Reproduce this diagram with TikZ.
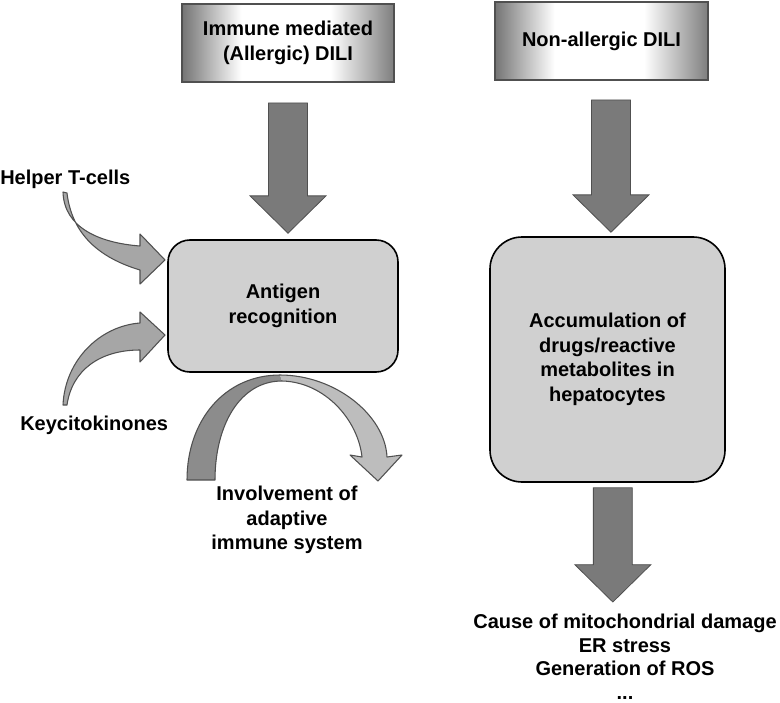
\documentclass[tikz,border=0pt]{standalone}
\usepackage{fontspec}
\setmainfont{Liberation Sans}
\usepackage{tikz}
\usetikzlibrary{calc}

\definecolor{boxgray}{HTML}{D0D0D0}
\definecolor{arrowgray}{HTML}{7A7A7A}
\definecolor{sidegray}{HTML}{A6A6A6}
\definecolor{arcdark}{HTML}{8C8C8C}
\definecolor{arclight}{HTML}{BDBDBD}
\definecolor{edgegray}{HTML}{505050}
\definecolor{headleft}{HTML}{747474}
\definecolor{headright}{HTML}{7E7E7E}
\pgfdeclarehorizontalshading{headshade}{100bp}{color(0bp)=(headleft); color(25bp)=(headleft); color(39bp)=(white); color(60bp)=(white); color(75bp)=(headright); color(100bp)=(headright)}

\newcommand{\fatdown}[5]{%
  \draw[bigarrow] let \p1=(#1.south), \p2=(#2.north) in
    (\x1+#3-14.6pt,\y1-#4) -- (\x1+#3+14.6pt,\y1-#4)
    -- (\x1+#3+14.6pt,\y2+#5+28pt) -- (\x1+#3+28.5pt,\y2+#5+28pt)
    -- (\x1+#3,\y2+#5) -- (\x1+#3-28.5pt,\y2+#5+28pt)
    -- (\x1+#3-14.6pt,\y2+#5+28pt) -- cycle;}

\begin{document}
\begin{tikzpicture}[x=0.75pt, y=-0.75pt,
	every node/.style={font=\fontsize{15}{18.4}\selectfont\bfseries, align=center},
	headbox/.style={draw=edgegray, line width=1.5pt, shading=headshade, minimum width=159pt, minimum height=58.5pt},
	roundbox/.style={draw=black, line width=1.2pt, fill=boxgray, rounded corners=#1},
	txt/.style={inner sep=0pt},
	bigarrow/.style={fill=arrowgray, draw=edgegray, line width=0.6pt},
	sidearrow/.style={fill=sidegray, draw=edgegray, line width=0.8pt, line join=round}]
	\useasboundingbox (0,0) rectangle (780,702);

	\draw[sidearrow] (63,192) .. controls (64,228) and (100,243) .. (140,246) -- (140,234) -- (165,260) -- (140,284) -- (140,270) .. controls (100,258) and (72,235) .. (67,193) -- cycle;
	\draw[sidearrow] (63,405) .. controls (65,360) and (100,326) .. (140,323) -- (140,312) -- (165,335) -- (140,362) -- (140,350) .. controls (100,350) and (72,370) .. (67,405) -- cycle;

	\fill[arcdark] (187,480) .. controls (187,420) and (225,375) .. (280,375) -- (282,381) .. controls (240,381) and (215,425) .. (215,480) -- cycle;
	\fill[arclight] (280,375) .. controls (335,375) and (385,415) .. (387,457) -- (402,455) -- (378,481) -- (350,455) -- (362,457) .. controls (358,420) and (325,382) .. (282,381) -- cycle;
	\draw[edgegray, line width=0.8pt, line join=round] (187,480) .. controls (187,420) and (225,375) .. (280,375) .. controls (335,375) and (385,415) .. (387,457) -- (402,455) -- (378,481) -- (350,455) -- (362,457) .. controls (358,420) and (325,382) .. (282,381) .. controls (240,381) and (215,425) .. (215,480) -- cycle;

	\node[headbox] (h1) at (288,43) {Immune mediated\\(Allergic) DILI};
	\node[headbox, minimum width=160pt] (h2) at (601.5,41) {Non-allergic DILI};
	\node[roundbox=16.5pt, minimum width=172.5pt, minimum height=99pt] (ag) at (283,306) {Antigen\\recognition};
	\node[roundbox=24pt, minimum width=176.25pt, minimum height=183.75pt] (acc) at (607.5,359.5) {Accumulation of\\drugs/reactive\\metabolites in\\hepatocytes};

	\node[txt, anchor=base west] (ht) at (0,185) {Helper T-cells};
	\node[txt, anchor=base west] (kc) at (20,430) {Keycitokinones};
	\node[txt, anchor=north] (inv) at (287,486) {Involvement of\\adaptive\\immune system};
	\node[txt, anchor=north, font=\fontsize{15}{17.6}\selectfont\bfseries] (res) at (625,614) {Cause of mitochondrial damage\\ER stress\\Generation of ROS\\...};

	\fatdown{h1}{ag}{0pt}{15pt}{4.5pt}
	\fatdown{h2}{acc}{7.1pt}{14.25pt}{3pt}
	\fatdown{acc}{res}{4pt}{3.75pt}{9pt}
\end{tikzpicture}
\end{document}
